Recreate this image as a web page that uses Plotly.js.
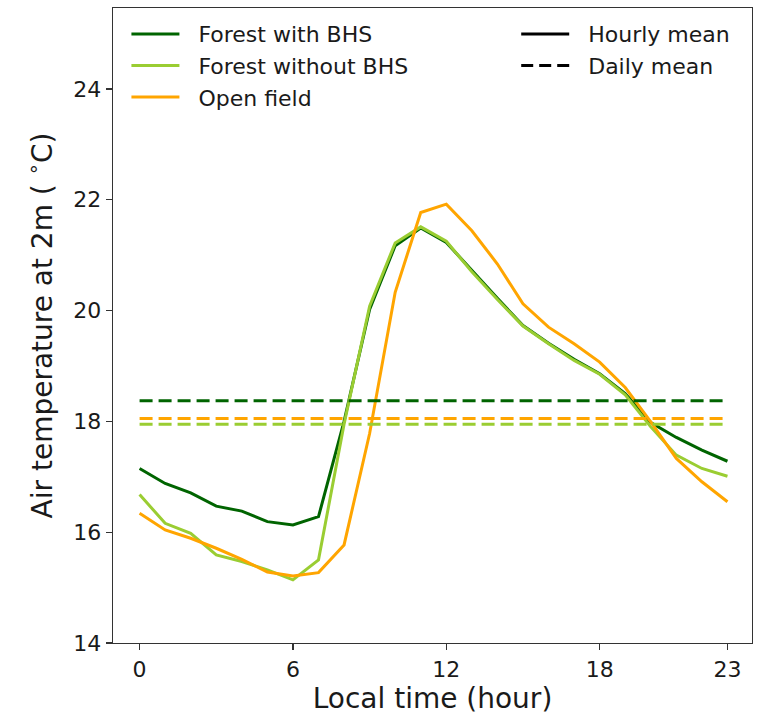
<!DOCTYPE html>
<html>
<head>
<meta charset="utf-8">
<script src="https://cdn.plot.ly/plotly-3.0.1.min.js"></script>
<style>
html, body { margin: 0; padding: 0; background: #fff; }
#chart { width: 759px; height: 717px; }
</style>
</head>
<body>
<div id="chart"></div>
<script>
const hours = [0,1,2,3,4,5,6,7,8,9,10,11,12,13,14,15,16,17,18,19,20,21,22,23];
const forestWithBHS = [17.15,16.88,16.71,16.47,16.38,16.19,16.13,16.28,18.00,20.02,21.17,21.49,21.23,20.72,20.22,19.73,19.41,19.12,18.86,18.50,17.98,17.71,17.48,17.28];
const forestWithoutBHS = [16.68,16.16,15.98,15.59,15.47,15.32,15.14,15.50,17.95,20.08,21.22,21.51,21.25,20.70,20.20,19.72,19.40,19.10,18.85,18.48,17.90,17.39,17.15,17.01];
const openField = [16.34,16.04,15.89,15.71,15.51,15.28,15.21,15.27,15.77,17.78,20.33,21.77,21.92,21.44,20.84,20.12,19.70,19.40,19.07,18.61,17.99,17.33,16.91,16.55];
const dailyMeanWithBHS = 18.37;
const dailyMeanWithoutBHS = 17.95;
const dailyMeanOpen = 18.05;
const xTicks = [0,6,12,18,23];
const yTicks = [14,16,18,20,22,24];
const seriesNames = ['Forest with BHS','Forest without BHS','Open field'];
const styleNames = ['Hourly mean','Daily mean'];

const cDark = '#006400', cLight = '#9ACD32', cOrange = '#FFA500';
const lw = 3;
const dashPat = '13px,6px';
const pad = '\u00a0\u00a0';

function constLine(v) { return hours.map(() => v); }

const traces = [
  {x: hours, y: forestWithBHS, name: pad + seriesNames[0], mode: 'lines', line: {color: cDark, width: lw}, legend: 'legend'},
  {x: hours, y: forestWithoutBHS, name: pad + seriesNames[1], mode: 'lines', line: {color: cLight, width: lw}, legend: 'legend'},
  {x: hours, y: openField, name: pad + seriesNames[2], mode: 'lines', line: {color: cOrange, width: lw}, legend: 'legend'},
  {x: hours, y: constLine(dailyMeanWithBHS), mode: 'lines', line: {color: cDark, width: lw, dash: dashPat}, showlegend: false},
  {x: hours, y: constLine(dailyMeanWithoutBHS), mode: 'lines', line: {color: cLight, width: lw, dash: dashPat}, showlegend: false},
  {x: hours, y: constLine(dailyMeanOpen), mode: 'lines', line: {color: cOrange, width: lw, dash: dashPat}, showlegend: false},
  {x: [null], y: [null], name: pad + styleNames[0], mode: 'lines', line: {color: '#000', width: lw}, legend: 'legend2'},
  {x: [null], y: [null], name: pad + styleNames[1], mode: 'lines', line: {color: '#000', width: lw, dash: '12px,6px'}, legend: 'legend2'}
];

const font = {family: 'DejaVu Sans, sans-serif', color: '#1a1a1a'};
const layout = {
  width: 759, height: 717,
  margin: {l: 113, r: 7, t: 8, b: 74},
  paper_bgcolor: '#fff', plot_bgcolor: '#fff',
  font: font,
  showlegend: true,
  xaxis: {
    range: [-1.04, 23.96], tickvals: xTicks, ticktext: xTicks.map(String),
    ticks: 'outside', ticklen: 6, tickwidth: 1.2, tickcolor: '#333',
    showline: true, mirror: true, linecolor: '#333', linewidth: 1.3,
    showgrid: false, zeroline: false,
    tickfont: {family: 'DejaVu Sans', size: 22, color: '#1a1a1a'},
    title: {text: 'Local time (hour)', font: {family: 'DejaVu Sans', size: 28, color: '#1a1a1a'}, standoff: 5}
  },
  yaxis: {
    range: [14, 25.46], tickvals: yTicks, ticktext: yTicks.map(String),
    ticks: 'outside', ticklen: 6, tickwidth: 1.2, tickcolor: '#333',
    showline: true, mirror: true, linecolor: '#333', linewidth: 1.3,
    showgrid: false, zeroline: false,
    tickfont: {family: 'DejaVu Sans', size: 22, color: '#1a1a1a'},
    title: {text: 'Air temperature at 2m ( <sup>∘</sup>C)', font: {family: 'DejaVu Sans', size: 28, color: '#1a1a1a'}, standoff: 12}
  },
  legend: {
    x: 0.021, y: 0.992, xanchor: 'left', yanchor: 'top',
    bgcolor: 'rgba(0,0,0,0)', borderwidth: 0,
    font: {family: 'DejaVu Sans', size: 22, color: '#1a1a1a'},
    itemwidth: 48, tracegroupgap: 0
  },
  legend2: {
    x: 0.631, y: 0.992, xanchor: 'left', yanchor: 'top',
    bgcolor: 'rgba(0,0,0,0)', borderwidth: 0,
    font: {family: 'DejaVu Sans', size: 22, color: '#1a1a1a'},
    itemwidth: 48, tracegroupgap: 0
  }
};

Plotly.newPlot('chart', traces, layout, {displayModeBar: false, staticPlot: true});
</script>
</body>
</html>
